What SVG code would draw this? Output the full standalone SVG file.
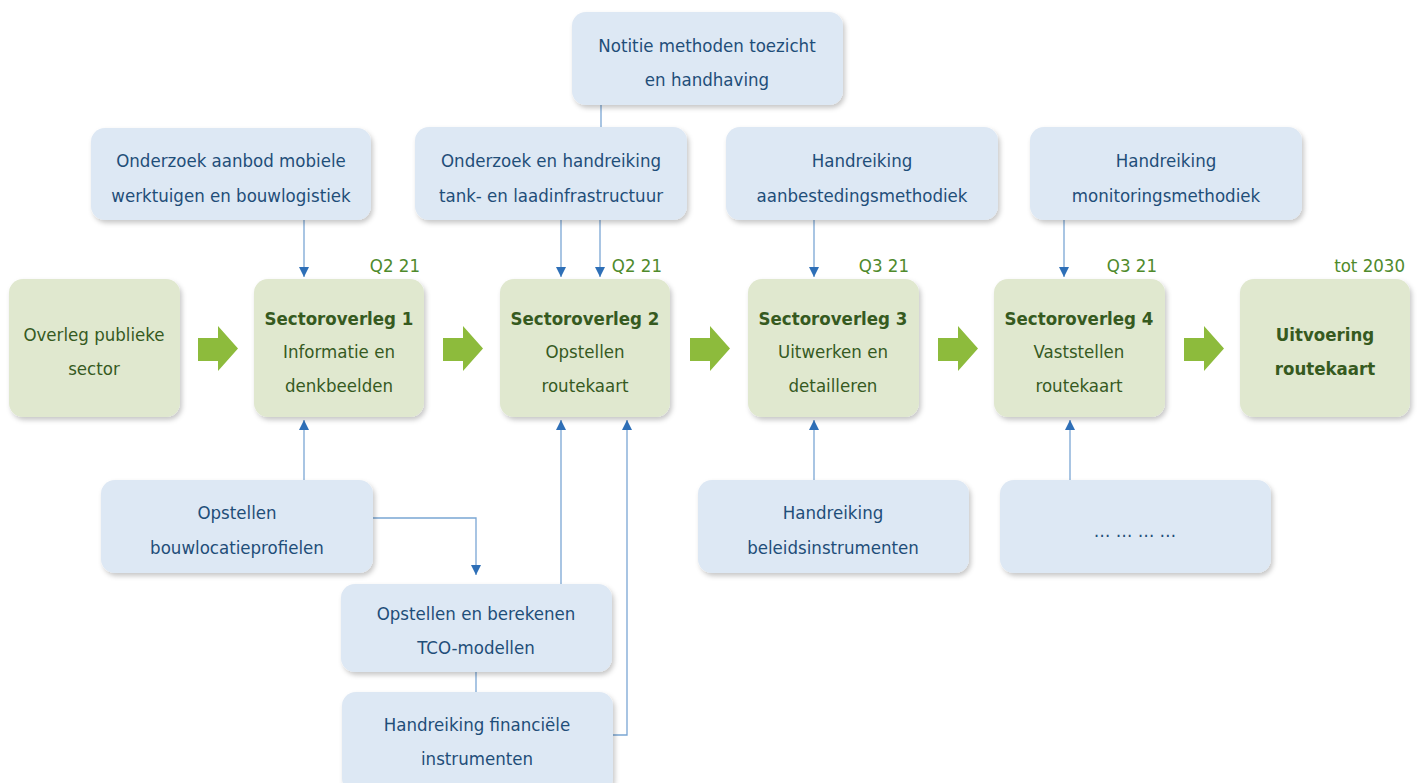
<svg xmlns="http://www.w3.org/2000/svg" width="1419" height="783" viewBox="0 0 1419 783">
<defs>
<filter id="sh" x="-10%" y="-10%" width="125%" height="130%">
<feDropShadow dx="2" dy="3" stdDeviation="2.5" flood-color="#000" flood-opacity="0.22"/>
</filter>
<marker id="ah" viewBox="0 0 10 10" refX="10" refY="5" markerWidth="10" markerHeight="10" markerUnits="userSpaceOnUse" orient="auto">
<path d="M0,0 L10,5 L0,10 z" fill="#2e6fb7"/>
</marker>
<g id="garrow"><path d="M0,12 L20,12 L20,0 L40,22.5 L20,45 L20,35 L0,35 z" fill="#8dbb3c"/></g>
</defs>
<style>
.b{fill:#dde8f4;filter:url(#sh)}
.g{fill:#e0e8cf;filter:url(#sh)}
.bt{font-family:"DejaVu Sans Condensed","DejaVu Sans",sans-serif;font-size:18.5px;fill:#1f4e79;text-anchor:middle}
.gt{font-family:"DejaVu Sans Condensed","DejaVu Sans",sans-serif;font-size:18.5px;fill:#365a1f;text-anchor:middle}
.gb{font-weight:bold}
.q{font-family:"DejaVu Sans Condensed","DejaVu Sans",sans-serif;font-size:18.5px;fill:#4f8a2c;text-anchor:end}
.c{fill:none;stroke:#7aa6d4;stroke-width:1.3}
.ca{fill:none;stroke:#7aa6d4;stroke-width:1.3;marker-end:url(#ah)}
</style>
<rect width="1419" height="783" fill="#ffffff"/>

<g id="connectors">
<line class="c" x1="601" y1="105" x2="601" y2="127"/>
<line class="ca" x1="304" y1="220" x2="304" y2="277"/>
<line class="ca" x1="561" y1="220" x2="561" y2="277"/>
<line class="ca" x1="600" y1="220" x2="600" y2="277"/>
<line class="ca" x1="814" y1="220" x2="814" y2="277"/>
<line class="ca" x1="1064" y1="220" x2="1064" y2="277"/>
<line class="ca" x1="304" y1="480" x2="304" y2="420"/>
<polyline class="ca" points="373,518 476,518 476,575"/>
<line class="ca" x1="561" y1="584" x2="561" y2="420"/>
<line class="c" x1="476" y1="672" x2="476" y2="692"/>
<polyline class="ca" points="613,735 627,735 627,420"/>
<line class="ca" x1="814" y1="480" x2="814" y2="420"/>
<line class="ca" x1="1070" y1="480" x2="1070" y2="420"/>
</g>

<g id="n-notitie"><rect class="b" x="572" y="12" width="271" height="93" rx="14"/>
<text class="bt" x="707" y="52">Notitie methoden toezicht</text><text class="bt" x="707" y="86">en handhaving</text></g>

<g id="n-onderzoek-aanbod"><rect class="b" x="91" y="128" width="280" height="92" rx="14"/>
<text class="bt" x="231" y="167">Onderzoek aanbod mobiele</text><text class="bt" x="231" y="202">werktuigen en bouwlogistiek</text></g>

<g id="n-onderzoek-tank"><rect class="b" x="415" y="127" width="272" height="93" rx="14"/>
<text class="bt" x="551" y="167">Onderzoek en handreiking</text><text class="bt" x="551" y="202">tank- en laadinfrastructuur</text></g>

<g id="n-aanbesteding"><rect class="b" x="726" y="127" width="272" height="93" rx="14"/>
<text class="bt" x="862" y="167">Handreiking</text><text class="bt" x="862" y="202">aanbestedingsmethodiek</text></g>

<g id="n-monitoring"><rect class="b" x="1030" y="127" width="272" height="93" rx="14"/>
<text class="bt" x="1166" y="167">Handreiking</text><text class="bt" x="1166" y="202">monitoringsmethodiek</text></g>

<g id="n-overleg"><rect class="g" x="9" y="279" width="171" height="138" rx="14"/>
<text class="gt" x="94" y="341">Overleg publieke</text><text class="gt" x="94" y="375">sector</text></g>

<g id="n-so1"><rect class="g" x="254" y="279" width="170" height="138" rx="14"/>
<text class="gt gb" x="339" y="325">Sectoroverleg 1</text><text class="gt" x="339" y="358">Informatie en</text><text class="gt" x="339" y="392">denkbeelden</text>
<text class="q" x="420" y="272">Q2 21</text></g>

<g id="n-so2"><rect class="g" x="500" y="279" width="170" height="138" rx="14"/>
<text class="gt gb" x="585" y="325">Sectoroverleg 2</text><text class="gt" x="585" y="358">Opstellen</text><text class="gt" x="585" y="392">routekaart</text>
<text class="q" x="662" y="272">Q2 21</text></g>

<g id="n-so3"><rect class="g" x="748" y="279" width="171" height="138" rx="14"/>
<text class="gt gb" x="833" y="325">Sectoroverleg 3</text><text class="gt" x="833" y="358">Uitwerken en</text><text class="gt" x="833" y="392">detailleren</text>
<text class="q" x="909" y="272">Q3 21</text></g>

<g id="n-so4"><rect class="g" x="994" y="279" width="171" height="138" rx="14"/>
<text class="gt gb" x="1079" y="325">Sectoroverleg 4</text><text class="gt" x="1079" y="358">Vaststellen</text><text class="gt" x="1079" y="392">routekaart</text>
<text class="q" x="1157" y="272">Q3 21</text></g>

<g id="n-uitvoering"><rect class="g" x="1240" y="279" width="170" height="138" rx="14"/>
<text class="gt gb" x="1325" y="341">Uitvoering</text><text class="gt gb" x="1325" y="375">routekaart</text>
<text class="q" x="1405" y="272">tot 2030</text></g>

<g id="green-arrows">
<use href="#garrow" x="198" y="326"/>
<use href="#garrow" x="443" y="326"/>
<use href="#garrow" x="690" y="326"/>
<use href="#garrow" x="938" y="326"/>
<use href="#garrow" x="1184" y="326"/>
</g>

<g id="n-bouwlocatie"><rect class="b" x="101" y="480" width="272" height="93" rx="14"/>
<text class="bt" x="237" y="519">Opstellen</text><text class="bt" x="237" y="554">bouwlocatieprofielen</text></g>

<g id="n-tco"><rect class="b" x="341" y="584" width="271" height="88" rx="14"/>
<text class="bt" x="476" y="620">Opstellen en berekenen</text><text class="bt" x="476" y="654">TCO-modellen</text></g>

<g id="n-financieel"><rect class="b" x="342" y="692" width="271" height="100" rx="14"/>
<text class="bt" x="477" y="731">Handreiking financiële</text><text class="bt" x="477" y="765">instrumenten</text></g>

<g id="n-beleid"><rect class="b" x="698" y="480" width="271" height="93" rx="14"/>
<text class="bt" x="833" y="519">Handreiking</text><text class="bt" x="833" y="554">beleidsinstrumenten</text></g>

<g id="n-dots"><rect class="b" x="1000" y="480" width="271" height="93" rx="14"/>
<text class="bt" x="1135" y="537">… … … …</text></g>
</svg>
